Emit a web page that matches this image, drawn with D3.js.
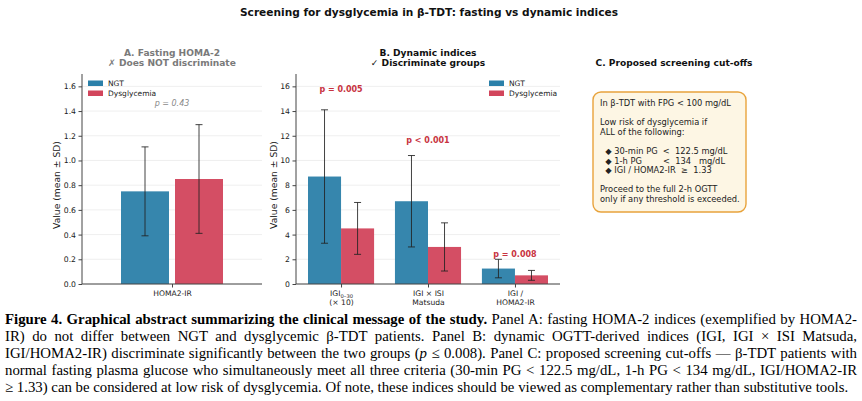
<!DOCTYPE html>
<html>
<head>
<meta charset="utf-8">
<script src="https://cdn.jsdelivr.net/npm/d3@7"></script>
<style>
  body { margin: 0; background: #fff; }
  svg { display: block; }
  .axis text { font-family: "DejaVu Sans", sans-serif; fill: #222; }
  .axis path, .axis line { stroke: #444; }
</style>
</head>
<body>
<script>
// data
var groups = ['NGT', 'Dysglycemia'];
var groupColors = ['#2b80a9', '#d2455c'];

var fastingCategories = ['HOMA2-IR'];
var fastingMeanNGT = [0.75];
var fastingSdNGT = [0.36];
var fastingMeanDys = [0.85];
var fastingSdDys = [0.44];
var fastingP = ['p = 0.43'];
var fastingTicks = [0, 0.2, 0.4, 0.6, 0.8, 1.0, 1.2, 1.4, 1.6];

var dynCategories = [['IGI', '(× 10)'], ['IGI × ISI', 'Matsuda'], ['IGI /', 'HOMA2-IR']];
var dynMeanNGT = [8.7, 6.7, 1.25];
var dynSdNGT = [5.4, 3.7, 0.75];
var dynMeanDys = [4.5, 3.0, 0.7];
var dynSdDys = [2.1, 1.95, 0.4];
var dynP = ['p = 0.005', 'p < 0.001', 'p = 0.008'];
var dynTicks = [0, 2, 4, 6, 8, 10, 12, 14, 16];

var boxLines = [
  'In β-TDT with FPG < 100 mg/dL',
  '',
  'Low risk of dysglycemia if',
  'ALL of the following:',
  '',
  '  ◆ 30-min PG  <  122.5 mg/dL',
  '  ◆ 1-h PG        <  134   mg/dL',
  '  ◆ IGI / HOMA2-IR  ≥  1.33',
  '',
  'Proceed to the full 2-h OGTT',
  'only if any threshold is exceeded.'
];

var W = 862, H = 401;
var svg = d3.select('body').append('svg').attr('width', W).attr('height', H);
var font = '"DejaVu Sans", sans-serif';

svg.append('text').attr('x', 429).attr('y', 15.8).attr('text-anchor', 'middle')
  .style('font-family', font).style('font-weight', 'bold').style('font-size', '10.6px').attr('fill', '#111')
  .text('Screening for dysglycemia in β-TDT: fasting vs dynamic indices');

function panelTitle(lines, cx, color) {
  var t = svg.append('text').attr('text-anchor', 'middle')
    .style('font-family', font).style('font-weight', 'bold').style('font-size', '9.1px').attr('fill', color);
  lines.forEach(function(l, i) {
    t.append('tspan').attr('x', cx).attr('y', 55.5 + i * 10 + (lines.length == 1 ? 10 : 0)).text(l);
  });
}

// generic bar panel
function barPanel(opt) {
  var g = svg.append('g');
  var y = d3.scaleLinear().domain([0, opt.ymax]).range([284, 74]);
  var x = d3.scaleLinear().domain(opt.xdom).range([opt.left, opt.right]);

  // grid
  g.selectAll('.grid').data(opt.ticks).enter().append('line')
    .attr('x1', opt.left).attr('x2', opt.right)
    .attr('y1', function(d) { return y(d); }).attr('y2', function(d) { return y(d); })
    .attr('stroke', '#ebebeb').attr('stroke-width', 0.8);

  var series = [
    { mean: opt.meanNGT, sd: opt.sdNGT, off: -opt.off, color: groupColors[0] },
    { mean: opt.meanDys, sd: opt.sdDys, off: opt.off, color: groupColors[1] }
  ];
  var bw = x(opt.bw) - x(0);
  series.forEach(function(s) {
    g.selectAll(null).data(s.mean).enter().append('rect')
      .attr('x', function(d, i) { return x(i + s.off) - bw / 2; })
      .attr('width', bw)
      .attr('y', function(d) { return y(d); })
      .attr('height', function(d) { return y(0) - y(d); })
      .attr('fill', s.color).attr('opacity', 0.95);
    var eb = g.selectAll(null).data(s.mean).enter().append('g').attr('stroke', '#222').attr('stroke-opacity', 0.85).attr('stroke-width', 1);
    eb.append('line')
      .attr('x1', function(d, i) { return x(i + s.off); }).attr('x2', function(d, i) { return x(i + s.off); })
      .attr('y1', function(d, i) { return y(d - s.sd[i]); }).attr('y2', function(d, i) { return y(d + s.sd[i]); });
    [-1, 1].forEach(function(sg) {
      eb.append('line')
        .attr('x1', function(d, i) { return x(i + s.off) - 3.5; }).attr('x2', function(d, i) { return x(i + s.off) + 3.5; })
        .attr('y1', function(d, i) { return y(d + sg * s.sd[i]); }).attr('y2', function(d, i) { return y(d + sg * s.sd[i]); });
    });
  });

  // axes
  var ya = g.append('g').attr('class', 'axis').attr('transform', 'translate(' + opt.left + ',0)')
    .call(d3.axisLeft(y).tickValues(opt.ticks).tickSize(3.5).tickPadding(2.5).tickFormat(opt.fmt));
  ya.selectAll('text').style('font-size', '7.7px');
  ya.select('.domain').attr('d', 'M0,284V74');
  var xa = g.append('g').attr('class', 'axis').attr('transform', 'translate(0,284)')
    .call(d3.axisBottom(x).tickValues(d3.range(opt.cats.length)).tickSize(3.5).tickFormat(''));
  xa.select('.domain').attr('d', 'M' + opt.left + ',0H' + opt.right);
  xa.selectAll('.tick').each(function(d, i) {
    var lab = opt.cats[i];
    var t = d3.select(this).append('text').attr('text-anchor', 'middle')
      .style('font-size', '7.6px').attr('fill', '#222');
    if (typeof lab === 'string') {
      t.append('tspan').attr('x', 0).attr('y', 12).text(lab);
    } else {
      t.append('tspan').attr('x', 0).attr('y', 12).text(lab[0]);
      if (i === 0) {
        t.append('tspan').style('font-size', '5.2px').attr('dy', 1.5).text('0–30');
      }
      t.append('tspan').attr('x', 0).attr('y', 21).text(lab[1]);
    }
  });

  // y label
  g.append('text').attr('transform', 'translate(' + opt.ylabX + ',185) rotate(-90)')
    .attr('text-anchor', 'middle').style('font-family', font).style('font-size', '9.2px').attr('fill', '#222')
    .text('Value (mean ± SD)');

  // p labels
  g.selectAll(null).data(opt.p).enter().append('text')
    .attr('x', function(d, i) { return x(i); })
    .attr('y', function(d, i) {
      var top = Math.max(opt.meanNGT[i] + opt.sdNGT[i], opt.meanDys[i] + opt.sdDys[i]);
      return y(top * opt.pFactor);
    })
    .attr('text-anchor', 'middle').style('font-family', font).style('font-size', '8px')
    .style('font-weight', opt.pBold ? 'bold' : 'normal').style('font-style', opt.pBold ? 'normal' : 'italic')
    .attr('fill', opt.pColor).text(function(d) { return d; });

  // legend
  var lg = g.append('g').attr('transform', 'translate(' + opt.legX + ',80.5)');
  groups.forEach(function(name, i) {
    lg.append('rect').attr('x', 0).attr('y', i * 10).attr('width', 15).attr('height', 5.5).attr('fill', groupColors[i]);
    lg.append('text').attr('x', 20).attr('y', i * 10 + 5.8).style('font-family', font).style('font-size', '7.5px')
      .attr('fill', '#222').text(name);
  });
}

panelTitle(['A. Fasting HOMA-2', '✗ Does NOT discriminate'], 172, '#7a7a7a');
barPanel({
  left: 82, right: 262, xdom: [-0.6, 0.6], ymax: 1.7, ticks: fastingTicks, fmt: d3.format('.1f'),
  cats: fastingCategories, meanNGT: fastingMeanNGT, sdNGT: fastingSdNGT, meanDys: fastingMeanDys, sdDys: fastingSdDys,
  off: 0.18, bw: 0.32, p: fastingP, pFactor: 1.12, pBold: false, pColor: '#8a8a8a', legX: 88, ylabX: 60
});

panelTitle(['B. Dynamic indices', '✓ Discriminate groups'], 428, '#111');
barPanel({
  left: 296, right: 560, xdom: [-0.518, 2.518], ymax: 17, ticks: dynTicks, fmt: d3.format('d'),
  cats: dynCategories, meanNGT: dynMeanNGT, sdNGT: dynSdNGT, meanDys: dynMeanDys, sdDys: dynSdDys,
  off: 0.19, bw: 0.38, p: dynP, pFactor: 1.1, pBold: true, pColor: '#c8333f', legX: 489, ylabX: 277
});

// panel C
panelTitle(['C. Proposed screening cut-offs'], 674, '#111');
svg.append('rect').attr('x', 593).attr('y', 92).attr('width', 153).attr('height', 120).attr('rx', 8)
  .attr('fill', '#fdf6e4').attr('stroke', '#e8a33c').attr('stroke-width', 1.4);
var bt = svg.append('text').style('font-family', font).style('font-size', '8.3px').attr('fill', '#222')
  .style('white-space', 'pre');
boxLines.forEach(function(l, i) {
  bt.append('tspan').attr('x', 600).attr('y', 106 + i * 9.6).text(l);
});

// caption
var capLines = [
  [['b', 'Figure 4. Graphical abstract summarizing the clinical message of the study.'], ['n', ' Panel A: fasting HOMA-2 indices (exemplified by HOMA2-']],
  [['n', 'IR) do not differ between NGT and dysglycemic β-TDT patients. Panel B: dynamic OGTT-derived indices (IGI, IGI × ISI Matsuda,']],
  [['n', 'IGI/HOMA2-IR) discriminate significantly between the two groups ('], ['i', 'p'], ['n', ' ≤ 0.008). Panel C: proposed screening cut-offs — β-TDT patients with']],
  [['n', 'normal fasting plasma glucose who simultaneously meet all three criteria (30-min PG < 122.5 mg/dL, 1-h PG < 134 mg/dL, IGI/HOMA2-IR']],
  [['n', '≥ 1.33) can be considered at low risk of dysglycemia. Of note, these indices should be viewed as complementary rather than substitutive tools.']]
];
capLines.forEach(function(parts, li) {
  var t = svg.append('text').attr('x', 5).attr('y', 324 + li * 17)
    .style('font-family', '"Liberation Serif", "Times New Roman", serif').style('font-size', '14.8px').attr('fill', '#000');
  parts.forEach(function(p) {
    t.append('tspan').style('font-weight', p[0] === 'b' ? 'bold' : 'normal')
      .style('font-style', p[0] === 'i' ? 'italic' : 'normal').text(p[1]);
  });
  if (li < capLines.length - 1) {
    var full = parts.map(function(p) { return p[1]; }).join('');
    var nSpaces = (full.match(/ /g) || []).length;
    var len = t.node().getComputedTextLength();
    t.attr('word-spacing', ((857 - 5 - len) / nSpaces) + 'px');
  }
});
</script>
</body>
</html>
